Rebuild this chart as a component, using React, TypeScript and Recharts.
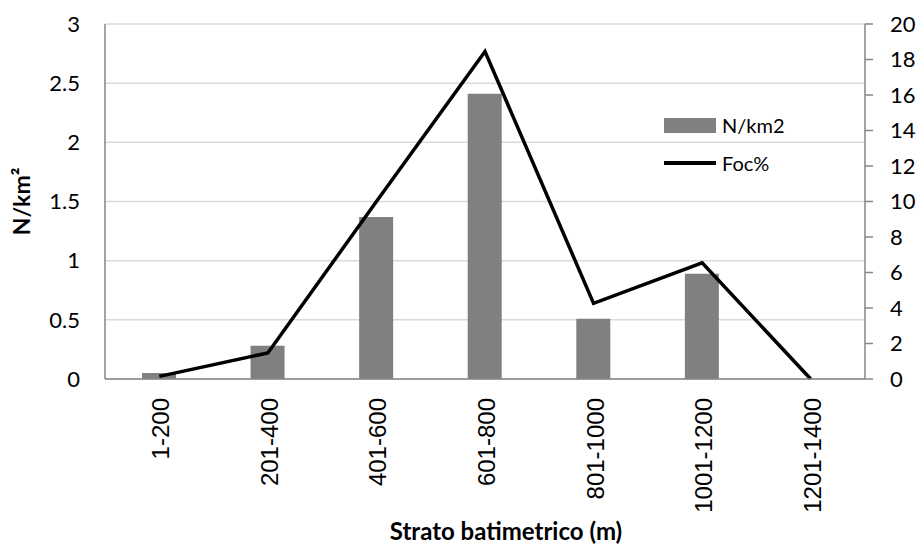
import { ComposedChart, Bar, Line, XAxis, YAxis, CartesianGrid, Legend, Label } from "recharts"

const strata = ["1-200", "201-400", "401-600", "601-800", "801-1000", "1001-1200", "1201-1400"]
const density = [0.05, 0.28, 1.37, 2.41, 0.51, 0.89, 0]
const foc = [0.15, 1.47, 10.0, 18.45, 4.26, 6.55, 0]
const leftTicks = [0, 0.5, 1, 1.5, 2, 2.5, 3]
const rightTicks = [0, 2, 4, 6, 8, 10, 12, 14, 16, 18, 20]

const data = strata.map((s, i) => ({ name: s, density: density[i], foc: foc[i] }))

const tickFont = "Lato, 'Open Sans', sans-serif"
const axisColor = "#868686"

function XTick({ x, y, payload }: any) {
  const ax = x + 10
  const ay = y + 19
  return (
    <text
      x={ax}
      y={ay}
      transform={`rotate(-90, ${ax}, ${ay})`}
      textAnchor="end"
      fontFamily="'Liberation Sans', Arial, sans-serif"
      fontSize={24}
      fill="#000"
    >
      {payload.value}
    </text>
  )
}

function ChartLegend() {
  return (
    <div style={{ fontFamily: tickFont, fontSize: 20, color: "#000", lineHeight: "20px" }}>
      <div style={{ display: "flex", alignItems: "center", height: 26 }}>
        <span style={{ display: "inline-block", width: 52, height: 15, background: "#808080", marginRight: 6 }} />
        <span>N/km2</span>
      </div>
      <div style={{ display: "flex", alignItems: "center", height: 26, marginTop: 12 }}>
        <span style={{ display: "inline-block", width: 52, height: 4, background: "#000", marginRight: 6 }} />
        <span>Foc%</span>
      </div>
    </div>
  )
}

export default function App() {
  return (
    <div style={{ position: "absolute", left: 0, top: 0, background: "#fff" }}>
      <ComposedChart width={919} height={546} data={data} margin={{ top: 24, right: 0, left: 0, bottom: 0 }}>
        <CartesianGrid yAxisId="left" vertical={false} stroke="#d9d9d9" strokeWidth={1.5} />
        <XAxis
          dataKey="name"
          height={167}
          tick={<XTick />}
          tickLine={false}
          tickSize={0}
          tickMargin={0}
          interval={0}
          axisLine={{ stroke: axisColor, strokeWidth: 1.5 }}
        >
          <Label
            value="Strato batimetrico (m)"
            position="insideBottom"
            offset={6}
            dx={21}
            style={{ fontFamily: tickFont, fontWeight: 700, fontSize: 24, fill: "#000" }}
          />
        </XAxis>
        <YAxis
          yAxisId="left"
          orientation="left"
          width={105}
          domain={[0, 3]}
          ticks={leftTicks}
          interval={0}
          tickLine={false}
          tickSize={0}
          tickMargin={25}
          axisLine={{ stroke: axisColor, strokeWidth: 1.5 }}
          tick={{ fontFamily: tickFont, fontSize: 22, fill: "#000" }}
        >
          <Label
            value="N/km²"
            angle={-90}
            position="insideLeft"
            offset={22}
            style={{ fontFamily: tickFont, fontWeight: 700, fontSize: 23, fill: "#000", textAnchor: "middle" }}
          />
        </YAxis>
        <YAxis
          yAxisId="right"
          orientation="right"
          width={54}
          domain={[0, 20]}
          ticks={rightTicks}
          interval={0}
          tickSize={8}
          tickMargin={17}
          tickLine={{ stroke: axisColor, strokeWidth: 1.5 }}
          axisLine={{ stroke: axisColor, strokeWidth: 1.5 }}
          tick={{ fontFamily: tickFont, fontSize: 22, fill: "#000", textAnchor: "start" }}
        />
        <Legend
          layout="vertical"
          align="center"
          verticalAlign="middle"
          content={<ChartLegend />}
          wrapperStyle={{ position: "absolute", left: 664, top: 112, width: 160 }}
        />
        <Bar yAxisId="left" dataKey="density" name="N/km2" fill="#808080" barSize={34} isAnimationActive={false} />
        <Line
          yAxisId="right"
          type="linear"
          dataKey="foc"
          name="Foc%"
          stroke="#000"
          strokeWidth={3.5}
          dot={false}
          activeDot={false}
          isAnimationActive={false}
        />
      </ComposedChart>
    </div>
  )
}
